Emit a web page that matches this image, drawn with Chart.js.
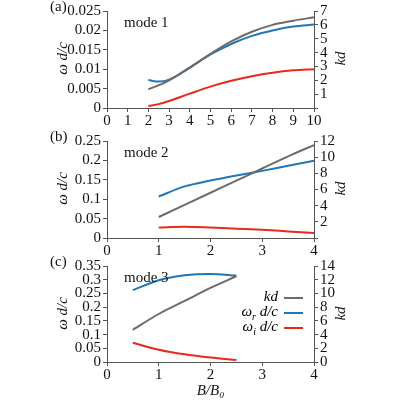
<!DOCTYPE html>
<html>
<head>
<meta charset="utf-8">
<script src="https://cdn.jsdelivr.net/npm/chart.js@4.4.0/dist/chart.umd.min.js"></script>
<style>
  body { margin: 0; background: #fff; font-family: "Liberation Serif", serif; }
  #wrap { position: relative; width: 400px; height: 400px; }
  canvas { position: absolute; left: 0; }
  .lbl { position: absolute; font-size: 15px; color: #111; }
  .leg { position: absolute; font-size: 15px; font-style: italic; text-align: right; width: 100px; left: 178px; }
  .ln { position: absolute; left: 284px; width: 19px; height: 2px; }
  .rot { position: absolute; font-size: 15px; font-style: italic; color: #111; transform: rotate(-90deg); transform-origin: center; width: 60px; text-align: center; }
</style>
</head>
<body>
<div id="wrap">
  <canvas id="ca" width="400" height="130" style="top:0"></canvas>
  <canvas id="cb" width="400" height="130" style="top:130px"></canvas>
  <canvas id="cc" width="400" height="145" style="top:255px"></canvas>
  <div class="lbl" style="left:50px;top:-2px">(a)</div>
  <div class="lbl" style="left:50px;top:128px">(b)</div>
  <div class="lbl" style="left:50px;top:253px">(c)</div>
  <div class="lbl" style="left:124px;top:14px">mode 1</div>
  <div class="lbl" style="left:124px;top:144px">mode 2</div>
  <div class="lbl" style="left:124px;top:269px">mode 3</div>
  <div class="rot" style="left:32px;top:50px">ω d/c</div>
  <div class="rot" style="left:32px;top:180px">ω d/c</div>
  <div class="rot" style="left:32px;top:305px">ω d/c</div>
  <div class="rot" style="left:310px;top:50px">kd</div>
  <div class="rot" style="left:310px;top:180px">kd</div>
  <div class="rot" style="left:310px;top:305px">kd</div>
  <div class="leg" style="top:288px">kd</div>
  <div class="leg" style="top:303px">ω<sub style="font-size:10px">r</sub> d/c</div>
  <div class="leg" style="top:318px">ω<sub style="font-size:10px">i</sub> d/c</div>
  <div class="ln" style="top:297px;background:#6b6b6b"></div>
  <div class="ln" style="top:312px;background:#1f77b4"></div>
  <div class="ln" style="top:327px;background:#e8291c"></div>
</div>
<script>
// mode 1
const xA = [2, 2.5, 3, 4, 5, 6, 7, 8, 9, 10];
const kdA = [1.35, 1.65, 2.0, 2.9, 3.9, 4.8, 5.5, 6.0, 6.3, 6.55];
const wrA = [0.0072, 0.0068, 0.0073, 0.0105, 0.0138, 0.0165, 0.0186, 0.0200, 0.0210, 0.0215];
const wiA = [0.0005, 0.0010, 0.0018, 0.0037, 0.0055, 0.0070, 0.0082, 0.0091, 0.0097, 0.0100];
// mode 2
const xB = [1, 1.5, 2, 2.5, 3, 3.5, 4];
const kdB = [2.6, 4.1, 5.6, 7.1, 8.6, 10.1, 11.5];
const wrB = [0.107, 0.133, 0.148, 0.161, 0.173, 0.186, 0.199];
const wiB = [0.027, 0.029, 0.027, 0.024, 0.021, 0.017, 0.013];
// mode 3
const xC = [0.5, 1, 1.5, 2, 2.5];
const kdC = [4.7, 7.0, 8.9, 10.8, 12.5];
const wrC = [0.262, 0.298, 0.316, 0.321, 0.315];
const wiC = [0.070, 0.045, 0.028, 0.016, 0.007];

const FONT = { family: "'Liberation Serif', serif", size: 15 };
const fmt = v => String(Number(v.toFixed(4)));

function pts(xs, ys) { return xs.map((x, i) => ({ x: x, y: ys[i] })); }

function makePanel(id, xs, kd, wr, wi, cfg) {
  const ds = (data, color, axis) => ({
    data: pts(xs, data), borderColor: color, borderWidth: 2, pointRadius: 0,
    cubicInterpolationMode: 'monotone', yAxisID: axis
  });
  const grid = { drawOnChartArea: false, tickLength: 4, color: '#555' };
  new Chart(document.getElementById(id), {
    type: 'line',
    data: { datasets: [ds(kd, '#6b6b6b', 'yk'), ds(wr, '#1f77b4', 'yw'), ds(wi, '#e8291c', 'yw')] },
    options: {
      responsive: false, animation: false,
      layout: { padding: { top: 11 } },
      plugins: { legend: { display: false }, tooltip: { enabled: false } },
      scales: {
        x: {
          type: 'linear', min: 0, max: cfg.xmax,
          ticks: { stepSize: 1, color: '#111', font: FONT, padding: 0, autoSkip: false, maxRotation: 0, callback: fmt },
          grid: grid, border: { color: '#555' },
          title: { display: !!cfg.xtitle, text: 'B/B₀', color: '#111', font: { ...FONT, style: 'italic' }, padding: 0 },
          afterFit: s => { s.height = cfg.xh; }
        },
        yw: {
          position: 'left', min: 0, max: cfg.wmax,
          ticks: { stepSize: cfg.wstep, color: '#111', font: FONT, padding: 2, autoSkip: false, callback: fmt },
          grid: grid, border: { color: '#555' },
          afterFit: s => { s.width = 107; }
        },
        yk: {
          position: 'right', min: 0, max: cfg.kmax,
          ticks: { stepSize: cfg.kstep, color: '#111', font: FONT, padding: 2, autoSkip: false,
                   callback: v => (v === 0 && !cfg.kzero) ? '' : fmt(v) },
          grid: grid, border: { color: '#555' },
          afterFit: s => { s.width = 86; }
        }
      }
    }
  });
}

makePanel('ca', xA, kdA, wrA, wiA, { xmax: 10, wmax: 0.025, wstep: 0.005, kmax: 7, kstep: 1, xh: 22 });
makePanel('cb', xB, kdB, wrB, wiB, { xmax: 4, wmax: 0.25, wstep: 0.05, kmax: 12, kstep: 2, xh: 22 });
makePanel('cc', xC, kdC, wrC, wiC, { xmax: 4, wmax: 0.35, wstep: 0.05, kmax: 14, kstep: 2, xh: 38, xtitle: true, kzero: true });
</script>
</body>
</html>
